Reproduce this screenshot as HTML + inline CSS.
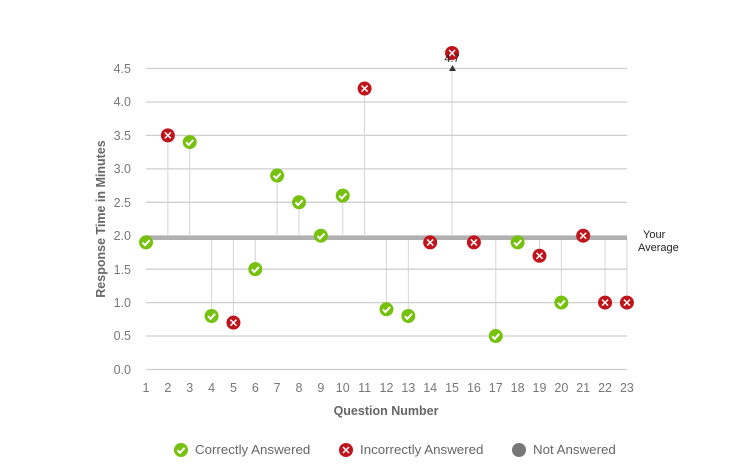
<!DOCTYPE html>
<html><head><style>body{margin:0;background:#fff}svg{display:block;font-family:"Liberation Sans",sans-serif}</style></head><body>
<svg width="753" height="468" viewBox="0 0 753 468">
<defs>
<g id="ok"><circle r="7" fill="#76c10d"/><path d="M-3.5,0.2 L-1,2.8 L3.6,-2.2" stroke="#fff" stroke-width="2" fill="none"/></g>
<g id="no"><circle r="7" fill="#bf141b"/><path d="M-3,-3 L3,3 M3,-3 L-3,3" stroke="#fff" stroke-width="1.5"/></g>
</defs>
<g stroke="#cfcfcf" stroke-width="1.3">
<line x1="146" x2="627" y1="68.5" y2="68.5"/><line x1="146" x2="627" y1="102" y2="102"/><line x1="146" x2="627" y1="135.4" y2="135.4"/><line x1="146" x2="627" y1="168.9" y2="168.9"/><line x1="146" x2="627" y1="202.3" y2="202.3"/><line x1="146" x2="627" y1="235.7" y2="235.7"/><line x1="146" x2="627" y1="269.2" y2="269.2"/><line x1="146" x2="627" y1="302.6" y2="302.6"/><line x1="146" x2="627" y1="336" y2="336"/><line x1="146" x2="627" y1="369.5" y2="369.5"/>
</g>
<g fill="#777" font-size="12.5" text-anchor="end">
<text x="131" y="73">4.5</text><text x="131" y="106">4.0</text><text x="131" y="140">3.5</text><text x="131" y="173">3.0</text><text x="131" y="207">2.5</text><text x="131" y="240">2.0</text><text x="131" y="274">1.5</text><text x="131" y="307">1.0</text><text x="131" y="340">0.5</text><text x="131" y="374">0.0</text>
</g>
<g fill="#777" font-size="12.5" text-anchor="middle" id="xl"></g>
<g id="stems" stroke="#d4d4d4" stroke-width="1"></g>
<rect x="146" y="236" width="481" height="4" fill="#b0b0b0"/>
<g id="pts"></g>
<path d="M449,71 L456,71 L452.5,65Z" fill="#333"/>
<text x="452" y="62" font-size="11" fill="#222" text-anchor="middle">4.7</text>
<text x="643" y="238" font-size="11" fill="#222">Your</text>
<text x="638" y="251" font-size="11" fill="#222">Average</text>
<text x="386" y="415" font-size="12.5" font-weight="bold" fill="#666" text-anchor="middle">Question Number</text>
<text transform="translate(105,219) rotate(-90)" font-size="12.5" font-weight="bold" fill="#666" text-anchor="middle">Response Time in Minutes</text>
<use href="#ok" x="181" y="450"/><text x="195" y="454" font-size="13.3" fill="#666">Correctly Answered</text>
<use href="#no" x="346" y="450"/><text x="360" y="454" font-size="13.3" fill="#666">Incorrectly Answered</text>
<circle cx="519" cy="450" r="7" fill="#777"/><text x="533" y="454" font-size="13.3" fill="#666">Not Answered</text>
<script>
var v=[[1.9,1],[3.5,0],[3.4,1],[0.8,1],[0.7,0],[1.5,1],[2.9,1],[2.5,1],[2.0,1],[2.6,1],[4.2,0],[0.9,1],[0.8,1],[1.9,0],[4.7,0],[1.9,0],[0.5,1],[1.9,1],[1.7,0],[1.0,1],[2.0,0],[1.0,0],[1.0,0]];
var ns="http://www.w3.org/2000/svg",s=document.getElementById('stems'),p=document.getElementById('pts'),xl=document.getElementById('xl');
v.forEach(function(d,i){var x=146+i*21.86,y=369.5-d[0]*66.89;if(d[0]>4.6)y=53;
var l=document.createElementNS(ns,'line');l.setAttribute('x1',x);l.setAttribute('x2',x);l.setAttribute('y1',238);l.setAttribute('y2',d[0]>4.6?71:y);s.appendChild(l);
var u=document.createElementNS(ns,'use');u.setAttribute('href',d[1]?'#ok':'#no');u.setAttribute('x',x);u.setAttribute('y',y);p.appendChild(u);
var t=document.createElementNS(ns,'text');t.setAttribute('x',x);t.setAttribute('y',392);t.textContent=i+1;xl.appendChild(t);});
</script>
</svg>
</body></html>
